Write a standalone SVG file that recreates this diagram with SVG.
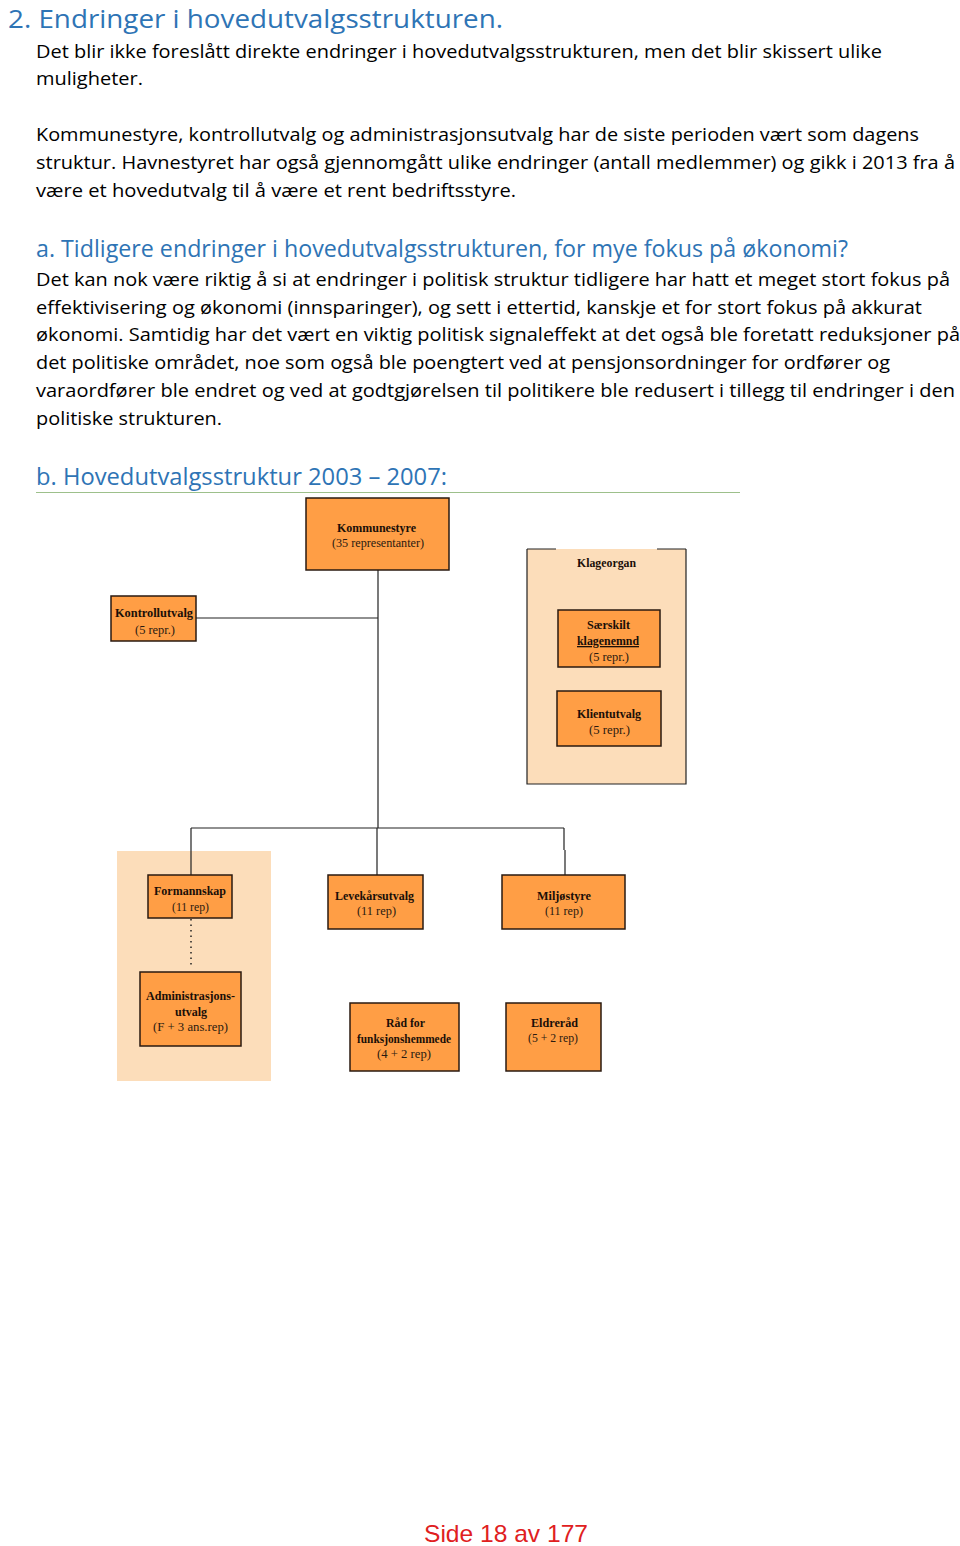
<svg xmlns="http://www.w3.org/2000/svg" width="960" height="1546" viewBox="0 0 960 1546">
<style>
.h{font-family:"Open Sans","Noto Sans",sans-serif;fill:#2E74B5;font-size:26px;font-weight:400}
.h2{font-family:"Open Sans","Noto Sans",sans-serif;fill:#2E74B5;font-size:24px;font-weight:400}
.b{font-family:"Open Sans","Noto Sans",sans-serif;fill:#000;font-size:19px}
.box{fill:#FF9E45;stroke:#2a1a10;stroke-width:1.5}
.t{font-family:"Liberation Serif",serif;font-size:13px;fill:#2a1a10;text-anchor:start}
.tb{font-family:"Liberation Serif",serif;font-size:13px;fill:#1a0f08;font-weight:bold}
.ln{stroke:#222;stroke-width:1.2;fill:none}
.ft{font-family:"Liberation Sans",Arial,sans-serif;font-size:24px;fill:#E0201E}
</style>
<rect width="960" height="1546" fill="#fff"/>
<g id="text">
<text class="h" x="8" y="28" textLength="495" lengthAdjust="spacingAndGlyphs">2. Endringer i hovedutvalgsstrukturen.</text>
<text class="b" x="36" y="58" textLength="846" lengthAdjust="spacingAndGlyphs">Det blir ikke foreslått direkte endringer i hovedutvalgsstrukturen, men det blir skissert ulike</text>
<text class="b" x="36" y="85" textLength="107" lengthAdjust="spacingAndGlyphs">muligheter.</text>
<text class="b" x="36" y="141" textLength="883" lengthAdjust="spacingAndGlyphs">Kommunestyre, kontrollutvalg og administrasjonsutvalg har de siste perioden vært som dagens</text>
<text class="b" x="36" y="169" textLength="919" lengthAdjust="spacingAndGlyphs">struktur. Havnestyret har også gjennomgått ulike endringer (antall medlemmer) og gikk i 2013 fra å</text>
<text class="b" x="36" y="197" textLength="480" lengthAdjust="spacingAndGlyphs">være et hovedutvalg til å være et rent bedriftsstyre.</text>
<text class="h2" x="36" y="257" textLength="812" lengthAdjust="spacingAndGlyphs">a.  Tidligere endringer i hovedutvalgsstrukturen, for mye fokus på økonomi?</text>
<text class="b" x="36" y="286" textLength="914" lengthAdjust="spacingAndGlyphs">Det kan nok være riktig å si at endringer i politisk struktur tidligere har hatt et meget stort fokus på</text>
<text class="b" x="36" y="314" textLength="886" lengthAdjust="spacingAndGlyphs">effektivisering og økonomi (innsparinger), og sett i ettertid, kanskje et for stort fokus på akkurat</text>
<text class="b" x="36" y="341" textLength="924" lengthAdjust="spacingAndGlyphs">økonomi. Samtidig har det vært en viktig politisk signaleffekt at det også ble foretatt reduksjoner på</text>
<text class="b" x="36" y="369" textLength="854" lengthAdjust="spacingAndGlyphs">det politiske området, noe som også ble poengtert ved at pensjonsordninger for ordfører og</text>
<text class="b" x="36" y="397" textLength="919" lengthAdjust="spacingAndGlyphs">varaordfører ble endret og ved at godtgjørelsen til politikere ble redusert i tillegg til endringer i den</text>
<text class="b" x="36" y="425" textLength="186" lengthAdjust="spacingAndGlyphs">politiske strukturen.</text>
<text class="h2" x="36" y="485" textLength="411" lengthAdjust="spacingAndGlyphs">b.  Hovedutvalgsstruktur 2003 – 2007:</text>
<line x1="36" y1="492.5" x2="740" y2="492.5" stroke="#9DC08B" stroke-width="1"/>
<text class="ft" x="424" y="1542" textLength="164" lengthAdjust="spacingAndGlyphs">Side 18 av 177</text>
</g>
<g id="klageorgan">
<rect x="527" y="549" width="159" height="235" fill="#FCDDBA"/>
<path class="ln" d="M527 549 V784 H686 V549 M527 549 H556 M657 549 H686"/>
<text class="tb" x="577" y="567" textLength="59" lengthAdjust="spacingAndGlyphs">Klageorgan</text>
</g>
<g id="fskap-area">
<rect x="117" y="851" width="154" height="230" fill="#FCDDBA"/>
</g>
<g id="connectors">
<path class="ln" d="M378 570 V828 M196 618 H378 M191 828 H564 M191 828 V875 M377 828 V875 M564 828 V850 M565 850 V875"/>
<path d="M191 919 V968" stroke="#222" stroke-width="1.5" stroke-dasharray="1.5,4" fill="none"/>
</g>
<g id="kommunestyre">
<rect class="box" x="306" y="498" width="143" height="72"/>
<text class="tb" x="337" y="532" textLength="79" lengthAdjust="spacingAndGlyphs">Kommunestyre</text>
<text class="t" x="332" y="547" textLength="92" lengthAdjust="spacingAndGlyphs">(35 representanter)</text>
</g>
<g id="kontrollutvalg">
<rect class="box" x="111" y="596" width="85" height="45"/>
<text class="tb" x="115" y="617" textLength="78" lengthAdjust="spacingAndGlyphs">Kontrollutvalg</text>
<text class="t" x="135" y="634" textLength="40" lengthAdjust="spacingAndGlyphs">(5 repr.)</text>
</g>
<g id="saerskilt">
<rect class="box" x="558" y="610" width="102" height="57"/>
<text class="tb" x="587" y="629" textLength="43" lengthAdjust="spacingAndGlyphs">Særskilt</text>
<text class="tb" x="577" y="645" textLength="62" lengthAdjust="spacingAndGlyphs" text-decoration="underline">klagenemnd</text>
<text class="t" x="589" y="661" textLength="40" lengthAdjust="spacingAndGlyphs">(5 repr.)</text>
</g>
<g id="klientutvalg">
<rect class="box" x="557" y="691" width="104" height="55"/>
<text class="tb" x="577" y="718" textLength="64" lengthAdjust="spacingAndGlyphs">Klientutvalg</text>
<text class="t" x="589" y="734" textLength="41" lengthAdjust="spacingAndGlyphs">(5 repr.)</text>
</g>
<g id="formannskap">
<rect class="box" x="148" y="875" width="84" height="43"/>
<text class="tb" x="154" y="895" textLength="72" lengthAdjust="spacingAndGlyphs">Formannskap</text>
<text class="t" x="172" y="911" textLength="37" lengthAdjust="spacingAndGlyphs">(11 rep)</text>
</g>
<g id="administrasjonsutvalg">
<rect class="box" x="140" y="972" width="101" height="74"/>
<text class="tb" x="146" y="1000" textLength="89" lengthAdjust="spacingAndGlyphs">Administrasjons-</text>
<text class="tb" x="175" y="1016" textLength="32" lengthAdjust="spacingAndGlyphs">utvalg</text>
<text class="t" x="153" y="1031" textLength="75" lengthAdjust="spacingAndGlyphs">(F + 3 ans.rep)</text>
</g>
<g id="levekaarsutvalg">
<rect class="box" x="328" y="875" width="95" height="54"/>
<text class="tb" x="335" y="900" textLength="79" lengthAdjust="spacingAndGlyphs">Levekårsutvalg</text>
<text class="t" x="357" y="915" textLength="39" lengthAdjust="spacingAndGlyphs">(11 rep)</text>
</g>
<g id="miljostyre">
<rect class="box" x="502" y="875" width="123" height="54"/>
<text class="tb" x="537" y="900" textLength="54" lengthAdjust="spacingAndGlyphs">Miljøstyre</text>
<text class="t" x="545" y="915" textLength="38" lengthAdjust="spacingAndGlyphs">(11 rep)</text>
</g>
<g id="raad-funksjonshemmede">
<rect class="box" x="350" y="1003" width="109" height="68"/>
<text class="tb" x="386" y="1027" textLength="39" lengthAdjust="spacingAndGlyphs">Råd for</text>
<text class="tb" x="357" y="1043" textLength="94" lengthAdjust="spacingAndGlyphs">funksjonshemmede</text>
<text class="t" x="377" y="1058" textLength="54" lengthAdjust="spacingAndGlyphs">(4 + 2  rep)</text>
</g>
<g id="eldreraad">
<rect class="box" x="506" y="1003" width="95" height="68"/>
<text class="tb" x="531" y="1027" textLength="47" lengthAdjust="spacingAndGlyphs">Eldreråd</text>
<text class="t" x="528" y="1042" textLength="50" lengthAdjust="spacingAndGlyphs">(5 + 2 rep)</text>
</g>
</svg>
